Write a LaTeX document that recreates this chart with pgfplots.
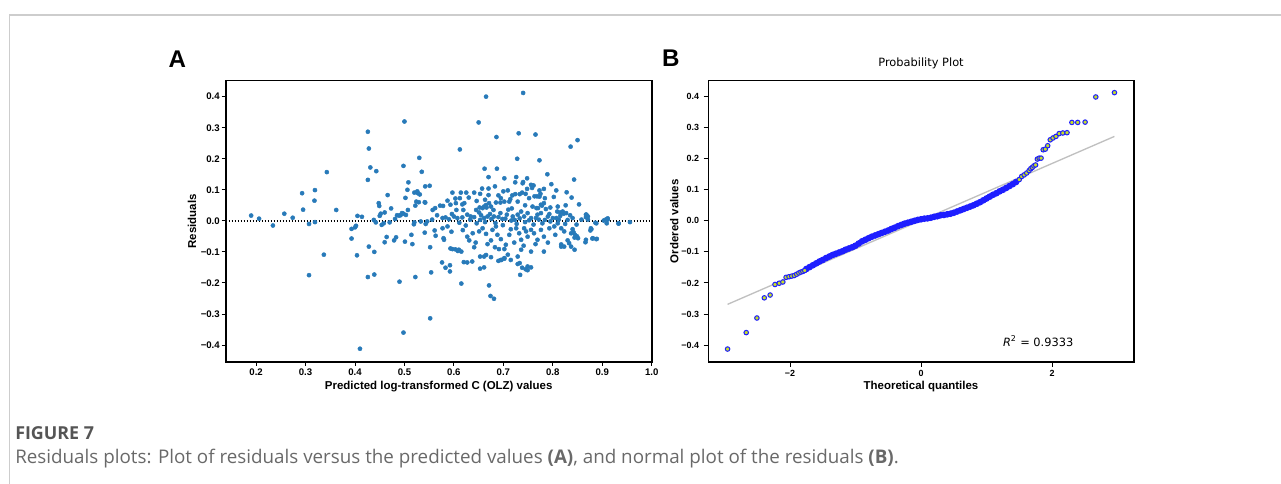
\documentclass[border=0pt]{standalone}
\usepackage{fontspec}
\setmainfont{Liberation Sans}
\newfontfamily\dejavu{DejaVu Sans}
\newfontfamily\opensans{Open Sans}
\usepackage{pgfplots}
\usepackage{pgfplotstable}
\pgfplotsset{compat=1.18}

\definecolor{ptblue}{RGB}{40,122,185}
\definecolor{qqedge}{RGB}{30,30,255}
\definecolor{qqfill}{RGB}{196,222,40}
\definecolor{fitgray}{RGB}{192,192,192}
\definecolor{framegray}{RGB}{205,205,205}
\definecolor{capdark}{RGB}{85,85,85}
\definecolor{captext}{RGB}{105,105,105}

% residuals vs predicted (panel A)
\pgfplotstableread{
x y
0.190 0.017
0.206 0.007
0.234 -0.015
0.257 0.023
0.274 0.010
0.293 0.089
0.295 0.036
0.307 -0.010
0.307 -0.175
0.319 0.099
0.318 0.065
0.319 -0.004
0.337 -0.109
0.343 0.157
0.362 0.035
0.393 -0.057
0.393 -0.026
0.400 -0.021
0.402 -0.016
0.404 -0.111
0.405 0.016
0.410 -0.412
0.414 0.013
0.426 0.287
0.428 0.233
0.426 0.132
0.431 0.172
0.443 0.160
0.426 -0.181
0.428 -0.083
0.439 -0.100
0.439 -0.173
0.438 0.003
0.442 -0.005
0.448 0.057
0.449 0.048
0.450 0.016
0.452 0.023
0.454 -0.013
0.458 -0.008
0.460 0.027
0.460 -0.069
0.464 -0.052
0.466 0.083
0.470 -0.005
0.473 0.040
0.479 -0.063
0.481 0.006
0.483 -0.053
0.485 0.018
0.489 0.017
0.490 -0.196
0.492 0.018
0.495 0.025
0.498 0.177
0.498 -0.360
0.498 0.023
0.500 0.320
0.501 -0.067
0.503 0.019
0.502 0.074
0.506 0.100
0.507 0.035
0.508 0.124
0.514 -0.045
0.516 -0.075
0.519 -0.011
0.520 -0.005
0.520 0.091
0.526 0.095
0.522 -0.181
0.522 0.049
0.524 0.062
0.527 0.089
0.529 0.060
0.530 0.203
0.531 0.085
0.535 0.158
0.542 0.111
0.542 0.059
0.551 0.113
0.552 -0.314
0.554 -0.166
0.557 0.035
0.562 0.041
0.572 0.049
0.576 -0.134
0.583 -0.151
0.592 -0.143
0.592 -0.163
0.593 -0.089
0.603 -0.092
0.608 -0.097
0.615 -0.202
0.620 -0.133
0.637 -0.131
0.653 -0.154
0.653 -0.115
0.665 -0.110
0.671 -0.208
0.674 -0.242
0.681 -0.251
0.690 -0.129
0.696 -0.126
0.702 -0.122
0.729 -0.139
0.733 -0.136
0.734 -0.174
0.738 -0.151
0.745 -0.156
0.749 -0.159
0.866 -0.069
0.880 -0.057
0.889 -0.058
0.876 -0.031
0.878 -0.027
0.888 -0.008
0.911 0.004
0.909 -0.008
0.933 -0.009
0.956 -0.004
0.867 0.012
0.871 0.004
0.853 0.053
0.817 -0.076
0.823 -0.083
0.833 -0.072
0.844 -0.054
0.837 -0.040
0.842 -0.037
0.849 -0.050
0.665 0.400
0.740 0.412
0.650 0.317
0.686 0.270
0.731 0.282
0.765 0.278
0.850 0.260
0.836 0.239
0.612 0.230
0.728 0.200
0.773 0.195
0.662 0.168
0.687 0.168
0.670 0.141
0.789 0.150
0.843 0.133
0.702 0.137
0.726 0.141
0.740 0.125
0.748 0.137
0.724 0.124
0.761 0.114
0.758 0.106
0.797 0.118
0.782 0.103
0.773 0.078
0.802 0.077
0.828 0.092
0.868 0.020
0.911 0.008
0.587 0.065
0.597 0.091
0.603 0.072
0.593 0.052
0.604 0.057
0.625 0.091
0.619 0.035
0.653 0.087
0.657 0.104
0.670 0.104
0.670 0.083
0.663 0.068
0.665 0.051
0.661 0.046
0.658 0.041
0.666 0.043
0.652 0.043
0.685 0.059
0.695 0.073
0.700 0.095
0.702 0.062
0.714 0.070
0.718 0.082
0.724 0.086
0.733 0.086
0.738 0.091
0.745 0.087
0.748 0.103
0.763 0.079
0.768 0.079
0.775 0.087
0.767 0.041
0.770 0.041
0.778 0.049
0.782 0.057
0.786 0.038
0.795 0.043
0.809 0.030
0.815 0.027
0.822 0.023
0.683 0.111
0.709 0.098
0.739 0.121
0.756 0.116
0.773 0.098
0.614 0.091
0.641 0.091
0.612 0.073
0.621 0.057
0.617 0.053
0.578 0.048
0.541 0.060
0.694 0.059
0.712 0.062
0.729 0.062
0.752 0.073
0.784 0.073
0.810 0.046
0.776 0.052
0.759 0.046
0.675 0.046
0.671 0.057
0.577 0.009
0.583 0.011
0.590 0.005
0.600 0.014
0.607 0.009
0.617 0.011
0.627 0.020
0.634 0.014
0.641 0.012
0.651 0.027
0.653 0.003
0.661 0.009
0.668 0.014
0.673 0.022
0.681 0.014
0.690 0.012
0.694 0.025
0.698 0.006
0.707 0.020
0.710 0.036
0.719 0.014
0.723 0.003
0.729 0.020
0.736 0.030
0.742 0.014
0.749 0.025
0.756 0.009
0.766 0.009
0.769 0.020
0.776 0.025
0.784 0.003
0.790 0.014
0.800 0.009
0.807 0.009
0.815 0.016
0.820 0.030
0.827 0.025
0.830 0.003
0.840 0.009
0.867 0.020
0.871 0.014
0.886 -0.006
0.903 0.001
0.908 0.005
0.933 -0.008
0.543 -0.010
0.546 -0.002
0.533 -0.002
0.541 -0.038
0.561 -0.031
0.577 -0.024
0.587 -0.018
0.579 -0.056
0.580 -0.061
0.552 -0.085
0.597 -0.091
0.610 -0.093
0.615 -0.099
0.627 -0.051
0.631 -0.063
0.641 -0.085
0.644 -0.070
0.651 -0.034
0.658 -0.024
0.665 -0.042
0.675 -0.063
0.678 -0.029
0.685 -0.018
0.688 -0.045
0.695 -0.059
0.691 -0.091
0.702 -0.091
0.705 -0.077
0.709 -0.109
0.712 -0.045
0.715 -0.027
0.726 -0.024
0.732 -0.040
0.736 -0.061
0.742 -0.024
0.746 -0.034
0.749 -0.051
0.756 -0.029
0.762 -0.040
0.769 -0.061
0.776 -0.029
0.782 -0.051
0.793 -0.024
0.803 -0.018
0.810 -0.008
0.817 -0.024
0.823 -0.034
0.830 -0.063
0.840 -0.027
0.845 -0.045
0.851 -0.056
0.867 -0.061
0.877 -0.024
0.881 -0.056
0.888 -0.059
0.837 -0.083
0.844 -0.093
0.817 -0.083
0.782 -0.099
0.756 -0.099
0.736 -0.093
0.729 -0.115
0.715 -0.126
0.695 -0.126
0.675 -0.117
0.661 -0.115
0.702 -0.120
0.749 -0.147
0.756 -0.150
0.627 -0.134
0.661 -0.150
0.596 0.022
0.611 -0.006
0.624 -0.015
0.633 0.004
0.646 -0.008
0.655 0.018
0.663 -0.004
0.676 0.006
0.684 -0.007
0.699 -0.014
0.704 0.007
0.716 0.001
0.727 -0.010
0.733 0.008
0.744 -0.004
0.752 0.002
0.761 -0.012
0.772 0.004
0.779 -0.008
0.795 -0.002
0.812 0.004
0.825 -0.010
0.835 0.018
0.848 -0.012
0.858 0.004
0.595 -0.035
0.618 -0.030
0.638 -0.040
0.668 -0.075
0.683 -0.085
0.722 -0.070
0.741 -0.080
0.765 -0.075
0.790 -0.070
0.805 -0.045
0.566 0.018
0.556 0.004
0.563 -0.048
0.605 0.035
0.645 0.035
0.680 0.035
0.717 0.040
0.744 0.050
0.793 0.022
0.826 0.050
0.838 0.075
0.807 0.098
0.690 0.082
0.646 0.064
0.630 0.075
}\residtable

% normal probability plot (panel B): sparse tail points
\pgfplotstableread{
x y
-2.953 -0.413
-2.668 -0.360
-2.505 -0.313
-2.392 -0.248
-2.303 -0.239
-2.229 -0.205
-2.165 -0.201
-2.109 -0.197
-2.060 -0.182
-2.015 -0.180
-1.973 -0.178
-1.934 -0.176
-1.898 -0.172
-1.865 -0.168
-1.833 -0.165
-1.804 -0.163
-1.776 -0.160
1.500 0.133
1.537 0.143
1.575 0.148
1.613 0.154
1.650 0.162
1.675 0.168
1.699 0.172
1.723 0.177
1.749 0.180
1.776 0.199
1.804 0.202
1.833 0.202
1.865 0.229
1.898 0.231
1.934 0.242
1.973 0.261
2.015 0.267
2.060 0.272
2.109 0.281
2.165 0.283
2.229 0.284
2.303 0.317
2.392 0.317
2.505 0.318
2.668 0.399
2.953 0.413
}\qqtail

% dense middle part of the ordered values
\pgfplotstableread{
x y
-1.75 -0.155
-1.70 -0.149
-1.65 -0.143
-1.60 -0.137
-1.55 -0.131
-1.50 -0.126
-1.45 -0.120
-1.40 -0.115
-1.35 -0.110
-1.30 -0.106
-1.25 -0.102
-1.20 -0.098
-1.15 -0.093
-1.10 -0.089
-1.05 -0.085
-1.00 -0.080
-0.95 -0.073
-0.90 -0.066
-0.85 -0.061
-0.80 -0.056
-0.75 -0.051
-0.70 -0.047
-0.65 -0.043
-0.60 -0.039
-0.55 -0.035
-0.50 -0.031
-0.45 -0.026
-0.40 -0.022
-0.35 -0.017
-0.30 -0.013
-0.25 -0.009
-0.20 -0.006
-0.15 -0.003
-0.10 0.000
-0.05 0.003
0.00 0.005
0.05 0.007
0.10 0.008
0.15 0.010
0.20 0.013
0.25 0.015
0.30 0.018
0.35 0.019
0.40 0.021
0.45 0.023
0.50 0.026
0.55 0.030
0.60 0.034
0.65 0.038
0.70 0.042
0.75 0.046
0.80 0.050
0.85 0.055
0.90 0.060
0.95 0.066
1.00 0.072
1.05 0.078
1.10 0.084
1.15 0.089
1.20 0.095
1.25 0.100
1.30 0.106
1.35 0.112
1.40 0.118
1.45 0.125
}\qqband

\begin{document}
\begin{tikzpicture}
\useasboundingbox (0,0) rectangle (960.75pt,363pt);

% page frame of the screenshot
\draw[framegray, line width=1pt] (7.1pt,0) -- (7.1pt,351.75pt) -- (960.75pt,351.75pt);

\pgfplotsset{
  panel/.style={
    scale only axis,
    height=210.975pt,
    ymin=-0.4547, ymax=0.4515,
    ytick={-0.4,-0.3,-0.2,-0.1,0,0.1,0.2,0.3,0.4},
    yticklabels={−0.4,−0.3,−0.2,−0.1,0.0,0.1,0.2,0.3,0.4},
    axis line style={line width=1.2pt, black},
    tick align=outside,
    xtick pos=bottom, ytick pos=left,
    major tick style={line width=0.7pt, black},
    label style={font=\bfseries\fontsize{8.6}{10}\selectfont},
    xlabel style={at={(axis description cs:0.5,-0.0985)}, anchor=base},
  },
}

% ---- panel A
\begin{axis}[panel,
  at={(169.275pt,91.5pt)}, anchor=south west,
  width=319.5pt,
  xmin=0.1385, xmax=1.0,
  xtick={0.2,0.3,0.4,0.5,0.6,0.7,0.8,0.9,1.0},
  xticklabels={0.2,0.3,0.4,0.5,0.6,0.7,0.8,0.9,1.0},
  major tick length=3pt,
  tick label style={font=\bfseries\fontsize{7.2}{8}\selectfont, inner sep=0pt},
  xticklabel shift=1.8pt, yticklabel shift=1.3pt,
  xlabel={Predicted log-transformed C (OLZ) values},
  ylabel={Residuals},
  ylabel style={at={(axis description cs:-0.0697,0.5)}, anchor=base, rotate=0},
]
\addplot[only marks, mark=*, color=ptblue, mark size=1.55pt,
  mark options={solid, fill=ptblue, draw=ptblue, line width=0.35pt}]
  table[x=x, y=y] {\residtable};
\addplot[black, line width=1.1pt, dash pattern=on 1.1pt off 1.15pt]
  coordinates {(0.1385,0) (1.0,0)};
\end{axis}

% ---- panel B
\begin{axis}[panel,
  at={(531.225pt,91.5pt)}, anchor=south west,
  width=319.05pt,
  xmin=-3.247, xmax=3.247,
  xtick={-2,0,2},
  xticklabels={−2,0,2},
  major tick length=3.5pt,
  tick label style={font=\bfseries\fontsize{6.7}{8}\selectfont, inner sep=0pt},
  xticklabel shift=2.5pt, yticklabel shift=3.2pt,
  xlabel={Theoretical quantiles},
  ylabel={Ordered values},
  ylabel style={at={(axis description cs:-0.0705,0.5)}, anchor=base, rotate=0},
  title={Probability Plot},
  title style={font=\dejavu\fontsize{8.55}{10}\selectfont, at={(axis description cs:0.5,1.0203)}, anchor=base},
]
\addplot[fitgray, line width=1pt] coordinates {(-2.953,-0.269) (2.953,0.272)};
\addplot[only marks, mark=*, color=qqedge, mark size=2.1pt,
  mark options={solid, fill=qqedge, draw=qqedge, line width=0.8pt}]
  table[x=x, y=y] {\qqband};
\addplot[only marks, mark=*, color=qqedge, mark size=1.7pt,
  mark options={solid, fill=qqfill, draw=qqedge, line width=0.75pt}]
  table[x=x, y=y] {\qqtail};
\node[anchor=base west, font=\dejavu\fontsize{8.55}{10}\selectfont] at (axis cs:1.18,-0.4045)
  {\textit{R}\textsuperscript{2} = 0.9333};
\end{axis}

% panel letters
\node[anchor=base west, font=\bfseries\fontsize{18.1}{20}\selectfont, inner sep=0pt] at (126.2pt,312.5pt) {A};
\node[anchor=base west, font=\bfseries\fontsize{18.1}{20}\selectfont, inner sep=0pt] at (496.3pt,313pt) {B};

% caption
\node[anchor=base west, inner sep=0pt, text=capdark, font=\opensans\bfseries\fontsize{13.4}{16}\selectfont] at (11.25pt,33pt) {FIGURE 7};
\node[anchor=base west, inner sep=0pt, text=captext, font=\opensans\fontsize{14.1}{17}\selectfont] at (11.25pt,15pt)
  {Residuals plots: Plot of residuals versus the predicted values \textbf{(A)}, and normal plot of the residuals \textbf{(B)}.};
\end{tikzpicture}
\end{document}
